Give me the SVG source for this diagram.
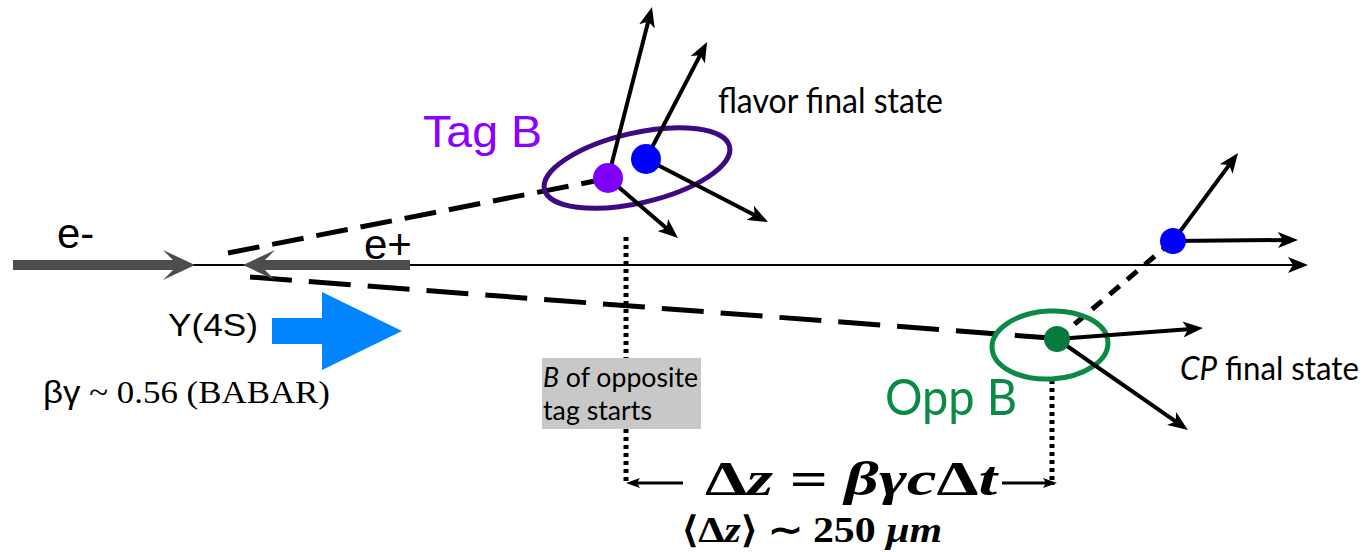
<svg xmlns="http://www.w3.org/2000/svg" width="1365" height="552" viewBox="0 0 1365 552">
<style>
.trk{stroke:#000;stroke-width:4;fill:none;marker-end:url(#ah)}
.dash{stroke:#000;stroke-width:5;fill:none}
.dot{stroke:#000;stroke-width:5;stroke-dasharray:4 4;fill:none}
.sans{font-family:"Liberation Sans",Arial,sans-serif}
.cal{font-family:Lato,"Open Sans",sans-serif;fill:#000}
.math{font-family:"Liberation Serif","Times New Roman",serif;font-weight:bold;fill:#000}
</style>
<defs>
<marker id="ah" viewBox="0 0 20 16" refX="8" refY="8" markerWidth="20" markerHeight="16" markerUnits="userSpaceOnUse" orient="auto">
<path d="M0,0 L20,8 L0,16 L5,8 z" fill="#000"/>
</marker>
<marker id="ah2" viewBox="0 0 14 10" refX="6" refY="5" markerWidth="14" markerHeight="10" markerUnits="userSpaceOnUse" orient="auto">
<path d="M0,0 L14,5 L0,10 L3,5 z" fill="#000"/>
</marker>
</defs>
<rect width="1365" height="552" fill="#fff"/>

<g id="connectors">
<line x1="192" y1="265" x2="1296" y2="265" stroke="#000" stroke-width="2" marker-end="url(#ah)"/>
<line class="dash" x1="228" y1="253" x2="600" y2="180" stroke-dasharray="32 13"/>
<line class="dash" x1="250" y1="277" x2="1050" y2="338" stroke-dasharray="42 17"/>
<line class="dash" x1="1057" y1="339" x2="1168" y2="245" stroke-dasharray="13 10"/>
<line class="dot" x1="626" y1="237" x2="626" y2="485"/>
<line class="dot" x1="1052" y1="380" x2="1052" y2="485"/>
<line x1="683" y1="483" x2="634" y2="483" stroke="#000" stroke-width="3" marker-end="url(#ah2)"/>
<line x1="1002" y1="483" x2="1049" y2="483" stroke="#000" stroke-width="3" marker-end="url(#ah2)"/>
</g>

<g id="e-minus">
<polygon points="13,260 173,260 163,250 195,265 163,280 173,270 13,270" fill="#4d4d4d"/>
<text class="sans" x="57" y="248" font-size="42" fill="#000">e-</text>
</g>

<g id="e-plus">
<polygon points="410,260 265,260 275,250 243,265 275,280 265,270 410,270" fill="#4d4d4d"/>
<text class="sans" x="364" y="259" font-size="42" fill="#000">e+</text>
</g>

<g id="boost">
<polygon points="272,318 322,318 322,292 402,331 322,370 322,344 272,344" fill="#0084ff"/>
<text class="sans" x="168" y="336" font-size="32" fill="#000" textLength="90" lengthAdjust="spacingAndGlyphs">Y(4S)</text>
<text x="43" y="403" font-size="31" fill="#000" textLength="287" lengthAdjust="spacingAndGlyphs"><tspan font-family="Liberation Sans, Arial, sans-serif">βγ</tspan><tspan font-family="Liberation Serif, Times New Roman, serif"> ~ 0.56 (BABAR)</tspan></text>
</g>

<g id="tag-b">
<ellipse cx="637" cy="168" rx="95" ry="35" transform="rotate(-13 637 168)" fill="none" stroke="#3d0a84" stroke-width="5"/>
<line class="trk" x1="608" y1="178" x2="649" y2="18.6"/>
<line class="trk" x1="608" y1="178" x2="668.9" y2="230.2"/>
<line class="trk" x1="646" y1="159" x2="701.5" y2="52.6"/>
<line class="trk" x1="646" y1="159" x2="757.3" y2="216.5"/>
<circle cx="608" cy="178" r="15" fill="#8000ff"/>
<circle cx="646" cy="159" r="15" fill="#0000ff"/>
<text class="sans" x="423" y="147" font-size="45" fill="#8c00ff" textLength="119" lengthAdjust="spacingAndGlyphs">Tag B</text>
<text class="cal" x="718" y="113" font-size="34" textLength="225" lengthAdjust="spacingAndGlyphs">flavor final state</text>
</g>

<g id="opp-b">
<ellipse cx="1050" cy="345" rx="58" ry="34" transform="rotate(-3 1050 345)" fill="none" stroke="#0b8a46" stroke-width="5"/>
<line class="trk" x1="1057" y1="339" x2="1191" y2="328.9"/>
<line class="trk" x1="1057" y1="339" x2="1178.1" y2="423.1"/>
<circle cx="1057" cy="339" r="13" fill="#077a3e"/>
<text class="cal" x="885" y="415" font-size="50" style="fill:#0b8a46" textLength="132" lengthAdjust="spacingAndGlyphs">Opp B</text>
<text class="cal" x="1180" y="380" font-size="32" textLength="179" lengthAdjust="spacingAndGlyphs"><tspan font-style="italic">CP</tspan> final state</text>
</g>

<g id="cp-decay">
<line class="trk" x1="1173" y1="241" x2="1230.9" y2="162.6"/>
<line class="trk" x1="1173" y1="241" x2="1286" y2="240"/>
<circle cx="1173" cy="241" r="13" fill="#0000ff"/>
</g>

<g id="label-box">
<rect x="542" y="358" width="159" height="71" fill="#c8c8c8"/>
<text class="cal" x="543" y="387" font-size="27" textLength="155" lengthAdjust="spacingAndGlyphs"><tspan font-style="italic">B</tspan> of opposite</text>
<text class="cal" x="543" y="420" font-size="27" textLength="109" lengthAdjust="spacingAndGlyphs">tag starts</text>
</g>

<g id="formula">
<text class="math" x="705" y="495" font-size="48" textLength="292" lengthAdjust="spacingAndGlyphs">Δ<tspan font-style="italic">z</tspan> = <tspan font-style="italic">βγc</tspan>Δ<tspan font-style="italic">t</tspan></text>
<text class="math" x="682" y="542" font-size="36" textLength="260" lengthAdjust="spacingAndGlyphs">⟨Δ<tspan font-style="italic">z</tspan>⟩ ∼ 250 <tspan font-style="italic">μm</tspan></text>
</g>
</svg>
